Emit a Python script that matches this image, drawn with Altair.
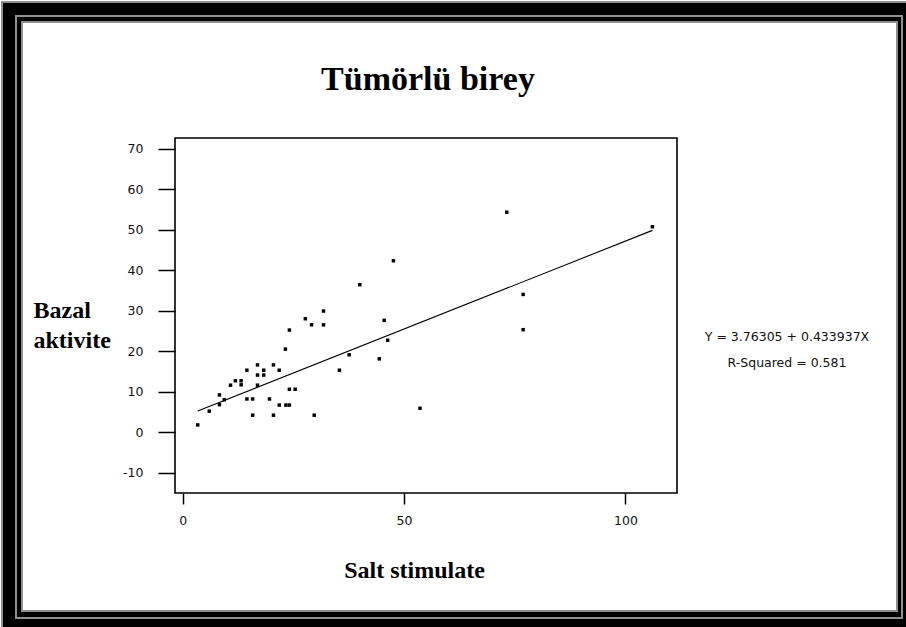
import altair as alt
import pandas as pd

# ---------------- chart content ----------------
TITLE = "Tümörlü birey"
X_TITLE = "Salt stimulate"
Y_TITLE = ["Bazal", "aktivite"]
EQUATION = "Y = 3.76305 + 0.433937X"
RSQ = "R-Squared = 0.581"
INTERCEPT = 3.76305
SLOPE = 0.433937

salt = [3.4, 6.0, 8.3, 8.3, 9.4, 10.8, 11.9, 13.2, 13.2, 14.5, 14.5, 15.8, 15.8,
        16.9, 16.9, 16.9, 18.3, 18.3, 19.6, 20.5, 20.5, 21.8, 21.8, 23.3, 24.1,
        23.2, 24.1, 24.1, 25.4, 27.7, 29.1, 29.7, 31.8, 31.8, 35.4, 37.6, 40.0,
        44.4, 45.5, 46.3, 47.6, 53.6, 73.2, 76.9, 76.9, 106.1]
bazal = [1.8, 5.2, 9.2, 6.8, 8.0, 11.6, 12.7, 12.7, 11.7, 15.3, 8.2, 8.2, 4.2,
         16.6, 14.1, 11.6, 15.3, 14.1, 8.2, 16.6, 4.2, 15.3, 6.7, 6.7, 6.7,
         20.5, 25.2, 10.6, 10.6, 28.0, 26.5, 4.2, 29.9, 26.5, 15.3, 19.1, 36.4,
         18.1, 27.6, 22.7, 42.3, 5.9, 54.3, 34.0, 25.3, 50.7]
fit_range = [3.4, 106.1]
x_ticks = [0, 50, 100]
y_ticks = [-10, 0, 10, 20, 30, 40, 50, 60, 70]
x_domain = [-1.74, 111.65]
y_domain = [-15.0, 72.6]

# ---------------- layout (page pixels) ----------------
PAGE_W, PAGE_H = 906, 627
PL, PT = 175, 138
W, H = 502, 355


def px(v):
    return v - PL


def py(v):
    return v - PT


# nested frame decoration: (x1, y1, x2, y2, colour)
FRAMES = [
    (1, 1, 906, 627, "#8f8f8f"),
    (3, 3, 906, 627, "#000000"),
    (15, 15, 903, 619, "#8f8f8f"),
    (17, 17, 901, 617, "#000000"),
    (21, 21, 898, 612, "#8f8f8f"),
    (23, 23, 896, 610, "#ffffff"),
]

one = alt.Data(values=[{}])
layers = []
for x1, y1, x2, y2, c in FRAMES:
    layers.append(
        alt.Chart(one).mark_rect(color=c).encode(
            x=alt.value(px(x1)), x2=alt.value(px(x2)),
            y=alt.value(py(y1)), y2=alt.value(py(y2)),
        )
    )

points_df = pd.DataFrame({"salt": salt, "bazal": bazal})
fit_df = pd.DataFrame({"salt": fit_range})

label_expr = "datum.value < 0 ? '-' + abs(datum.value) : '' + datum.value"

x_enc = alt.X(
    "salt:Q",
    scale=alt.Scale(domain=x_domain, nice=False, zero=False),
    axis=alt.Axis(
        values=x_ticks, grid=False, domain=False, tickSize=11, tickWidth=1.5,
        tickColor="#000", labelPadding=10, labelFont="DejaVu Sans",
        labelFontSize=12.5, labelColor="#111", labelExpr=label_expr,
        title=X_TITLE, titleFont="Liberation Serif", titleFontSize=24,
        titleFontWeight="bold", titleColor="#000", titleX=239, titleY=84,
        titleAlign="center", titleBaseline="alphabetic", zindex=1,
    ),
)
y_enc = alt.Y(
    "bazal:Q",
    scale=alt.Scale(domain=y_domain, nice=False, zero=False),
    axis=alt.Axis(
        values=y_ticks, grid=False, domain=False, tickSize=17, tickWidth=1.5,
        tickColor="#000", labelPadding=15, labelFont="DejaVu Sans",
        labelFontSize=12.5, labelColor="#111", labelExpr=label_expr,
        title=Y_TITLE, titleFont="Liberation Serif", titleFontSize=24,
        titleFontWeight="bold", titleColor="#000", titleAngle=0,
        titleAlign="left", titleBaseline="alphabetic", titleX=-142,
        titleY=179, titleLineHeight=30, zindex=1,
    ),
)

fit_line = alt.Chart(fit_df).transform_calculate(
    bazal=f"{INTERCEPT} + {SLOPE} * datum.salt"
).mark_line(color="#000", strokeWidth=1.1).encode(x=x_enc, y=y_enc)

points = alt.Chart(points_df).mark_square(
    size=12, color="#000", opacity=1
).encode(x=x_enc, y=y_enc)

plot_frame = alt.Chart(one).mark_rect(
    filled=False, stroke="#000", strokeWidth=1.6
).encode(x=alt.value(0), x2=alt.value(W), y=alt.value(0), y2=alt.value(H))

title_text = alt.Chart(one).mark_text(
    font="Liberation Serif", fontSize=34, fontWeight="bold", color="#000",
    align="center", baseline="alphabetic"
).encode(x=alt.value(px(428)), y=alt.value(py(90)), text=alt.value(TITLE))

eq_text = alt.Chart(one).mark_text(
    font="DejaVu Sans", fontSize=12.5, color="#111", align="center", baseline="middle"
).encode(x=alt.value(px(787)), y=alt.value(py(337)), text=alt.value(EQUATION))

rsq_text = alt.Chart(one).mark_text(
    font="DejaVu Sans", fontSize=12.5, color="#111", align="center", baseline="middle"
).encode(x=alt.value(px(787)), y=alt.value(py(363)), text=alt.value(RSQ))

layers += [fit_line, points, plot_frame, title_text, eq_text, rsq_text]

chart = alt.layer(*layers).properties(
    width=W,
    height=H,
    autosize=alt.AutoSizeParams(type="none"),
    padding={"left": PL, "top": PT, "right": PAGE_W - PL - W, "bottom": PAGE_H - PT - H},
    background="#ffffff",
).configure_view(strokeOpacity=0)

chart.save("out.html", embed_options={"renderer": "svg", "actions": False})
